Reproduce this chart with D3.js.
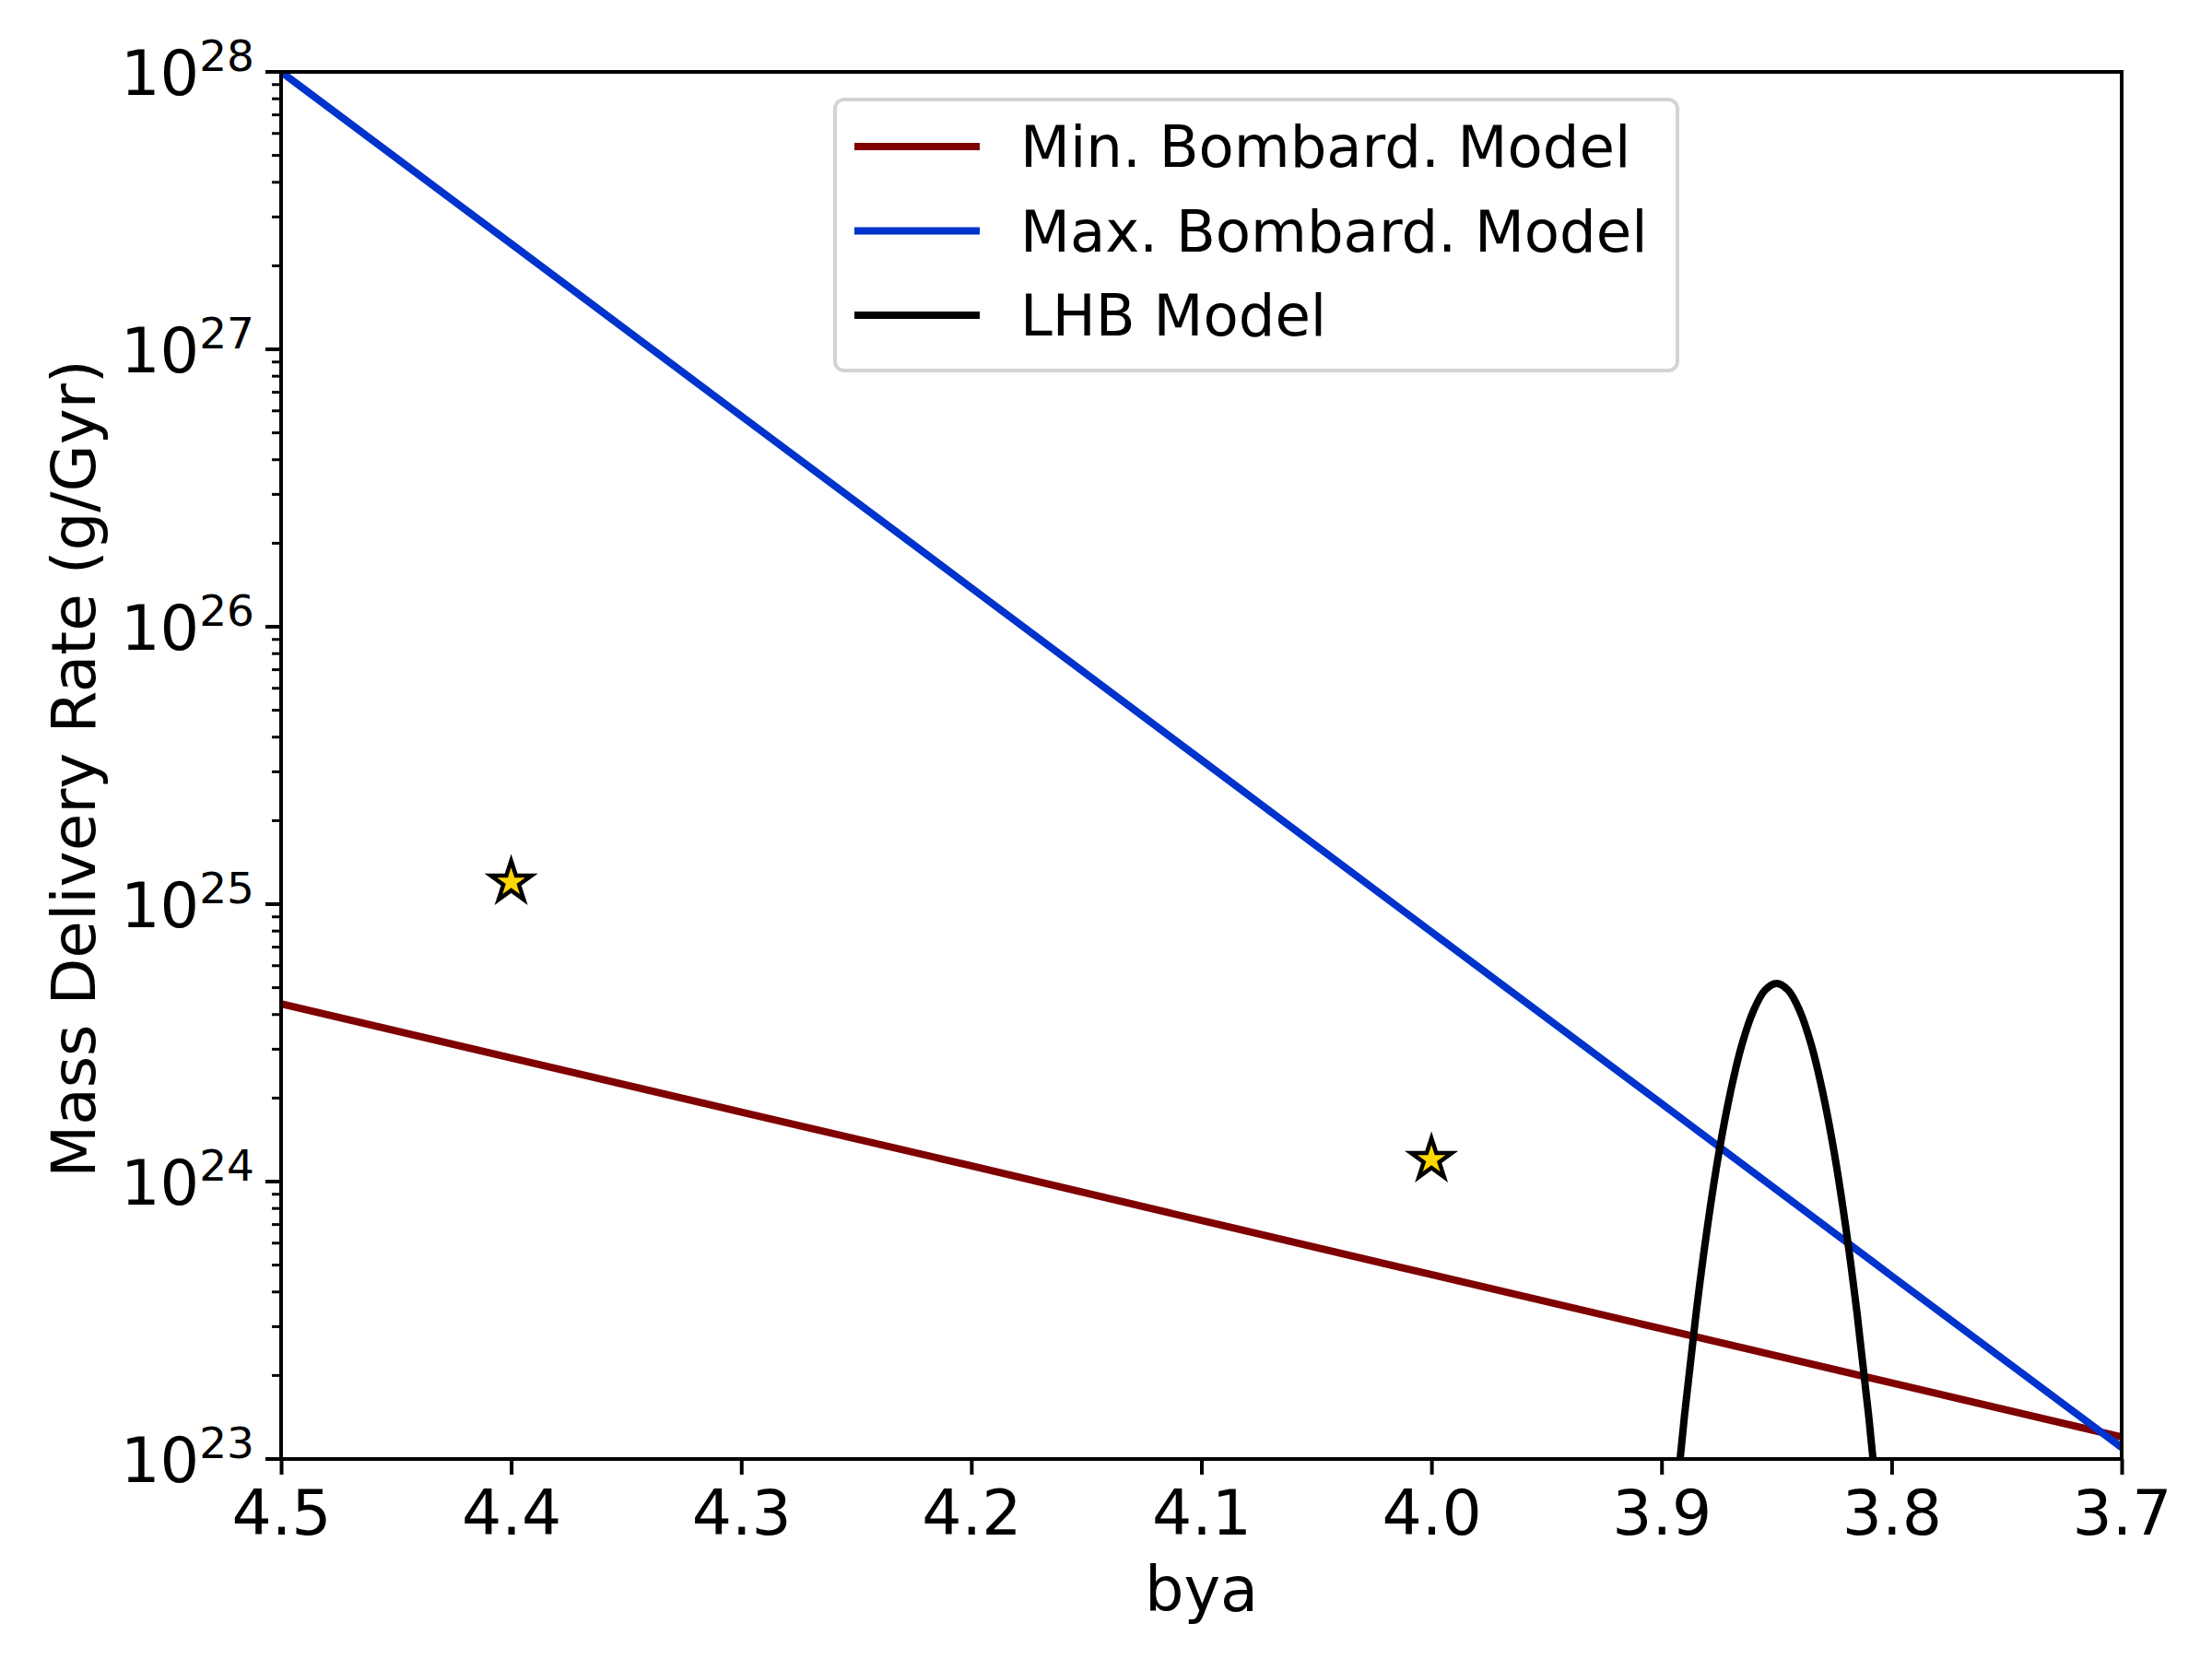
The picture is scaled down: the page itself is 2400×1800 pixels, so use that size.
<!DOCTYPE html>
<html>
<head>
<meta charset="utf-8">
<script src="https://cdn.jsdelivr.net/npm/d3@7"></script>
<style>
	body { margin: 0; background: #fff; }
	text { font-family: "DejaVu Sans", sans-serif; fill: #000; }
</style>
</head>
<body>
<svg id="chart" width="2400" height="1800"></svg>
<script>
// values (bya, g/Gyr)
var bya = [4.5, 4.4, 4.3, 4.2, 4.1, 4.0, 3.9, 3.8, 3.7];
var minRate = [4.37e24, 2.79e24, 1.78e24, 1.14e24, 7.24e23, 4.62e23, 2.95e23, 1.88e23, 1.20e23];
var maxRate = [1.00e28, 2.40e27, 5.75e26, 1.38e26, 3.31e25, 7.94e24, 1.91e24, 4.57e23, 1.10e23];

var lhbBya = [3.90, 3.895, 3.89, 3.885, 3.88, 3.875, 3.87, 3.865, 3.86, 3.855, 3.85,
	3.845, 3.84, 3.835, 3.83, 3.825, 3.82, 3.815, 3.81, 3.805, 3.80];
var lhbRate = [1.93e22, 5.57e22, 1.44e23, 3.34e23, 6.92e23, 1.28e24, 2.11e24, 3.13e24, 4.14e24, 4.90e24, 5.18e24,
	4.90e24, 4.14e24, 3.13e24, 2.11e24, 1.28e24, 6.92e23, 3.34e23, 1.44e23, 5.57e22, 1.93e22];

var starBya = [4.4, 4.0];
var starRate = [1.2e25, 1.2e24];

var seriesNames = ["Min. Bombard. Model", "Max. Bombard. Model", "LHB Model"];
var seriesColors = ["#7f0000", "#0033cc", "#000000"];

var xTicks = [4.5, 4.4, 4.3, 4.2, 4.1, 4.0, 3.9, 3.8, 3.7];
var yExps = [23, 24, 25, 26, 27, 28];

(function(){

	var margin = {top: 78, right: 98, bottom: 217, left: 305};
	var W = 2400, H = 1800;
	var width = W - margin.left - margin.right;
	var height = H - margin.top - margin.bottom;
	var lw = 8;

	draw();

	function draw(){
		var svg = d3.select("#chart");
		svg.append("rect").attr("width", W).attr("height", H).attr("fill", "#fff");

		var x = d3.scaleLinear().domain([4.5, 3.7]).range([0, width]);
		var y = d3.scaleLog().domain([1e23, 1e28]).range([height, 0]);

		var g = svg.append("g")
			.attr("transform", "translate(" + margin.left + "," + margin.top + ")");

		g.append("clipPath").attr("id", "plotclip")
			.append("rect").attr("width", width).attr("height", height);

		var line = d3.line()
			.x(function(d){ return x(d[0]); })
			.y(function(d){ return y(d[1]); });

		var plot = g.append("g").attr("clip-path", "url(#plotclip)");

		var minData = d3.zip(bya, minRate);
		var maxData = d3.zip(bya, maxRate);
		var lhbData = d3.zip(lhbBya, lhbRate);

		plot.append("path").datum(minData)
			.attr("d", line)
			.attr("fill", "none").attr("stroke", seriesColors[0]).attr("stroke-width", lw);
		plot.append("path").datum(maxData)
			.attr("d", line)
			.attr("fill", "none").attr("stroke", seriesColors[1]).attr("stroke-width", lw);
		plot.append("path").datum(lhbData)
			.attr("d", line.curve(d3.curveCatmullRom))
			.attr("fill", "none").attr("stroke", seriesColors[2]).attr("stroke-width", lw);

		// stars
		var star = d3.symbol().type(d3.symbolStar).size(610);
		g.selectAll(".star")
			.data(d3.zip(starBya, starRate))
			.enter().append("path")
				.attr("class", "star")
				.attr("transform", function(d){ return "translate(" + x(d[0]) + "," + y(d[1]) + ")"; })
				.attr("d", star)
				.attr("fill", "#ffd700")
				.attr("stroke", "#000")
				.attr("stroke-width", 4.5)
				.attr("stroke-linejoin", "miter");

		// x axis
		var xAxis = d3.axisBottom(x).tickValues(xTicks).tickSize(17).tickPadding(0).tickFormat(d3.format(".1f"));
		var gx = g.append("g").attr("transform", "translate(0," + height + ")").call(xAxis);
		gx.select(".domain").remove();
		gx.selectAll(".tick line").attr("stroke", "#000").attr("stroke-width", 4);
		gx.selectAll(".tick text")
			.attr("y", 82).attr("dy", null)
			.attr("font-size", 68).attr("font-family", "DejaVu Sans");

		// y axis, minor ticks first
		var minors = [];
		yExps.forEach(function(e){
			if (e === 28) return;
			for (var k = 2; k <= 9; k++) minors.push(k * Math.pow(10, e));
		});
		g.append("g").selectAll("line")
			.data(minors)
			.enter().append("line")
				.attr("x1", -10).attr("x2", 0)
				.attr("y1", function(d){ return y(d); })
				.attr("y2", function(d){ return y(d); })
				.attr("stroke", "#000").attr("stroke-width", 3);

		var gy = g.append("g");
		var yt = gy.selectAll(".ytick")
			.data(yExps)
			.enter().append("g")
				.attr("class", "ytick")
				.attr("transform", function(d){ return "translate(0," + y(Math.pow(10, d)) + ")"; });
		yt.append("line").attr("x1", -17).attr("x2", 0).attr("stroke", "#000").attr("stroke-width", 4);
		var lbl = yt.append("text")
			.attr("x", -29).attr("y", 25)
			.attr("text-anchor", "end")
			.attr("font-size", 67);
		lbl.append("tspan").text("10");
		lbl.append("tspan").attr("font-size", 47).attr("dy", -26).text(function(d){ return d; });

		// frame
		g.append("rect")
			.attr("width", width).attr("height", height)
			.attr("fill", "none").attr("stroke", "#000").attr("stroke-width", 4);

		// axis titles
		svg.append("text")
			.attr("x", margin.left + width / 2).attr("y", 1748)
			.attr("text-anchor", "middle").attr("font-size", 67)
			.text("bya");
		svg.append("text")
			.attr("transform", "translate(103,834) rotate(-90)")
			.attr("text-anchor", "middle").attr("font-size", 66)
			.text("Mass Delivery Rate (g/Gyr)");

		// legend
		var legend = svg.append("g").attr("class", "legend");
		legend.append("rect")
			.attr("x", 906).attr("y", 108).attr("width", 914).attr("height", 294)
			.attr("rx", 10).attr("ry", 10)
			.attr("fill", "#fff").attr("fill-opacity", 0.8)
			.attr("stroke", "#d4d4d4").attr("stroke-width", 4);
		var rows = legend.selectAll(".row")
			.data(seriesNames)
			.enter().append("g")
				.attr("class", "row")
				.attr("transform", function(d, i){ return "translate(0," + (159 + i * 91.5) + ")"; });
		rows.append("line")
			.attr("x1", 927).attr("x2", 1063)
			.attr("stroke", function(d, i){ return seriesColors[i]; })
			.attr("stroke-width", lw);
		rows.append("text")
			.attr("x", 1107).attr("y", 22)
			.attr("font-size", 62.5)
			.text(function(d){ return d; });
	}

})();
</script>
</body>
</html>
